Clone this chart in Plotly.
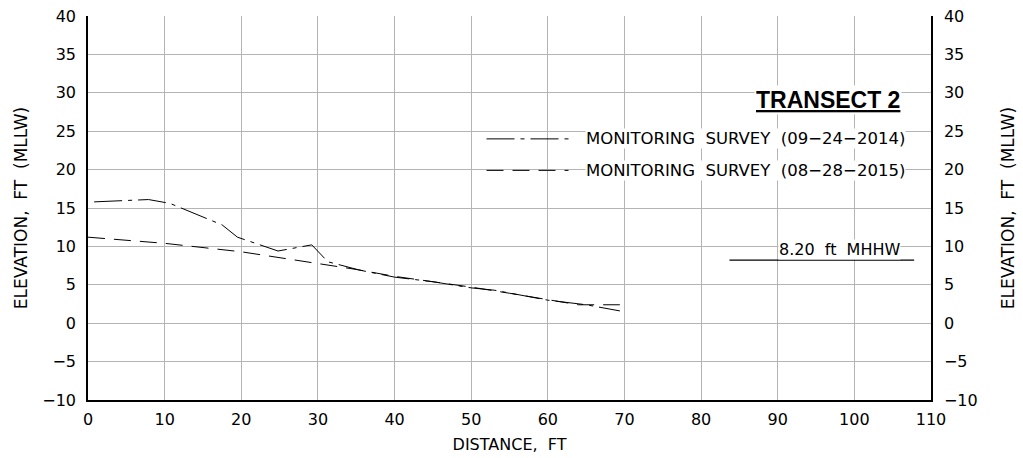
import plotly.graph_objects as go

# Survey profiles along the transect (distance in ft, elevation in ft MLLW)
dist_2014 = [0.8, 7.9, 10.7, 17.5, 19.5, 24.8, 29.2, 31.3, 35.5, 40, 45, 50, 53, 57, 60, 65, 69.4]
elev_2014 = [15.8, 16.1, 15.6, 12.8, 11.2, 9.4, 10.2, 8.0, 6.9, 6.0, 5.4, 4.6, 4.3, 3.6, 3.0, 2.4, 1.6]

dist_2015 = [0, 10, 20, 30, 35, 40, 45, 50, 55, 60, 64, 69.4]
elev_2015 = [11.2, 10.4, 9.3, 7.8, 7.0, 6.1, 5.4, 4.7, 3.9, 3.1, 2.4, 2.4]

label_2014 = "MONITORING  SURVEY  (09\u221224\u22122014)"
label_2015 = "MONITORING  SURVEY  (08\u221228\u22122015)"

mhhw = 8.20
mhhw_span = [83.7, 107.8]

x_ticks = list(range(0, 111, 10))
y_ticks = list(range(-10, 41, 5))

FONT = "DejaVu Sans"
DASH_2014 = "28px,6px,4px,6px"
DASH_2015 = "17px,9px"

fig = go.Figure()

fig.add_trace(go.Scatter(x=dist_2014, y=elev_2014, mode="lines",
                         line=dict(color="black", width=1, dash=DASH_2014),
                         showlegend=False))
fig.add_trace(go.Scatter(x=dist_2015, y=elev_2015, mode="lines",
                         line=dict(color="black", width=1, dash=DASH_2015),
                         showlegend=False))
fig.add_trace(go.Scatter(x=mhhw_span, y=[mhhw, mhhw], mode="lines",
                         line=dict(color="black", width=1.3),
                         showlegend=False))
# invisible trace to activate the right-hand axis
fig.add_trace(go.Scatter(x=[0], y=[0], yaxis="y2", mode="markers",
                         marker=dict(opacity=0), showlegend=False, hoverinfo="skip"))

grid = "#b4b4b4"
ytitle = "ELEVATION,  FT  (MLLW)"
fig.update_layout(
    width=1023, height=458,
    margin=dict(l=88, r=92, t=16, b=58),
    paper_bgcolor="white", plot_bgcolor="white",
    font=dict(family=FONT, color="black", size=16),
    xaxis=dict(range=[0, 110], tickvals=x_ticks, showgrid=True, gridcolor=grid, gridwidth=1,
               zeroline=False, showline=True, linecolor="black", linewidth=1.5,
               ticks="", ticklabelstandoff=4, automargin=False,
               tickfont=dict(size=16),
               title=dict(text="DISTANCE,  FT", font=dict(size=16), standoff=11)),
    yaxis=dict(range=[-10, 40], tickvals=y_ticks, showgrid=True, gridcolor=grid, gridwidth=1,
               zeroline=False, showline=True, linecolor="black", linewidth=1.5,
               ticks="", ticklabelstandoff=7, tickfont=dict(size=16), automargin=False,
               title=dict(text=ytitle, font=dict(size=17), standoff=10)),
    yaxis2=dict(range=[-10, 40], tickvals=y_ticks, overlaying="y", side="right",
                showgrid=False, zeroline=False, showline=True, linecolor="black", linewidth=1.5,
                ticks="", ticklabelstandoff=8, tickfont=dict(size=16), automargin=False,
                title=dict(text=ytitle, font=dict(size=17), standoff=25)),
)

# Title block (underlined)
fig.add_annotation(x=96.5, y=29.0, xref="x", yref="y", text="<b>TRANSECT 2</b>",
                   showarrow=False,
                   font=dict(size=23, family="Liberation Sans", lineposition="under"),
                   bgcolor="white", xanchor="center", yanchor="middle", borderpad=1)

# Hand-drawn legend
for yv, lab, dash in [(24.0, label_2014, DASH_2014), (19.9, label_2015, DASH_2015)]:
    fig.add_shape(type="line", xref="x", yref="y", x0=52.0, x1=62.7, y0=yv, y1=yv,
                  line=dict(color="black", width=1, dash=dash))
    fig.add_annotation(x=64.8, y=yv, xref="x", yref="y", text=lab, showarrow=False,
                       xanchor="left", yanchor="middle", bgcolor="white",
                       font=dict(size=16.5), borderpad=0)

# MHHW label
fig.add_annotation(x=98.1, y=mhhw + 1.4, xref="x", yref="y", text="8.20  ft  MHHW",
                   showarrow=False, xanchor="center", yanchor="middle", bgcolor="white",
                   font=dict(size=16), borderpad=0)

fig.write_html("out.html")
